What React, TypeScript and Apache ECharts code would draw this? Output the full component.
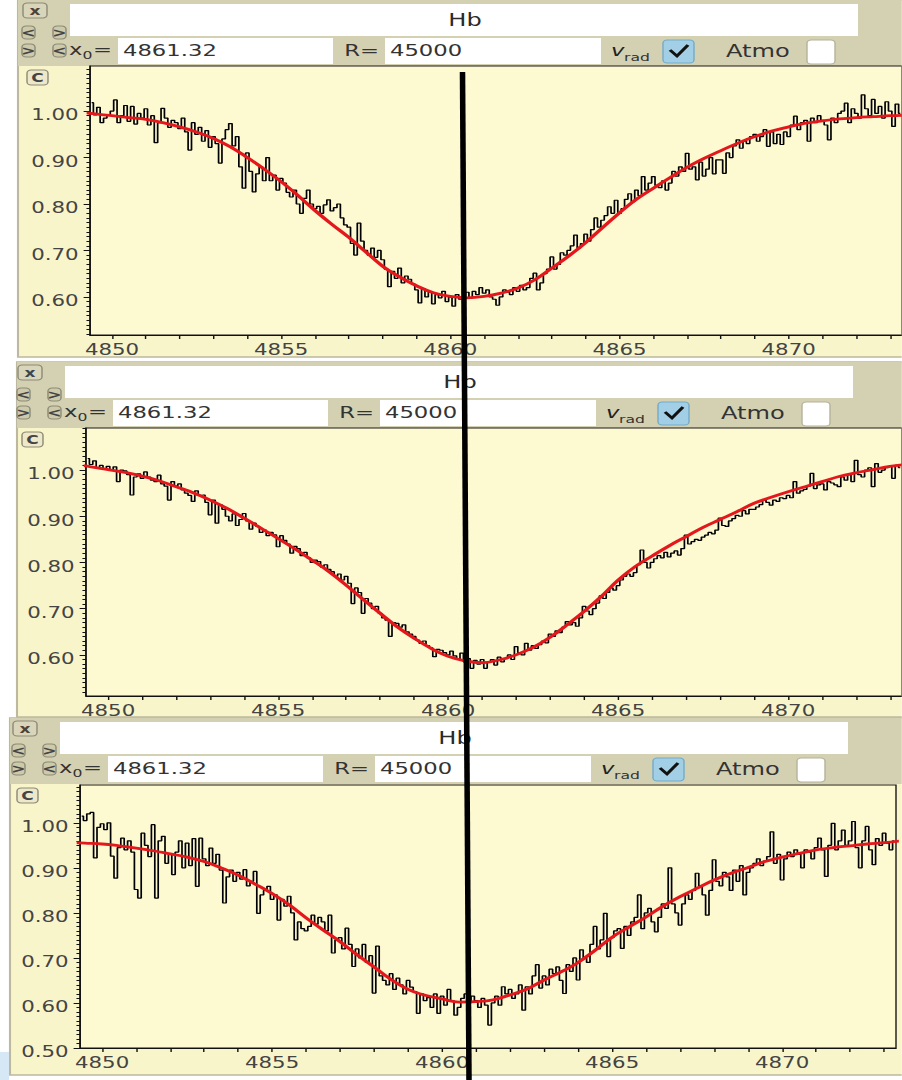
import { useEffect, useRef } from 'react';
import * as echarts from 'echarts';

// The reference screenshot is stretched horizontally; the chart is drawn in a
// narrower box and widened with a CSS scaleX so text and strokes match.
const S = 1.42;
const W = 902 / S;
const X = (x: number) => x / S;

// ---------- data ----------
const TITLE = 'Hb';
const X0_TEXT = '4861.32';
const R_TEXT = '45000';

const X_MIN = 4849.35;
const X_MAX = 4873.35;
const X_TICKS = [4850, 4851, 4852, 4853, 4854, 4855, 4856, 4857, 4858, 4859, 4860, 4861,
  4862, 4863, 4864, 4865, 4866, 4867, 4868, 4869, 4870, 4871, 4872, 4873];
const X_LABELS = [4850, 4855, 4860, 4865, 4870];
const Y_LABELS_A = [0.6, 0.7, 0.8, 0.9, 1.0];
const Y_LABELS_B = [0.5, 0.6, 0.7, 0.8, 0.9, 1.0];

// observed spectra: flux (x1000) sampled every 0.1 A from 4849.4 A
const WL_START = 4849.4;
const WL_STEP = 0.1;
const FLUX_1 = [
  1018, 992, 1008, 975, 985, 992,
  1000, 1024, 975, 990, 1012, 978, 1010, 972, 995, 985,
  1005, 970, 990, 932, 975, 1006, 985, 965, 980, 975,
  962, 985, 955, 916, 975, 950, 965, 935, 958, 922,
  945, 930, 888, 940, 960, 973, 925, 945, 880, 834,
  910, 870, 826, 865, 880, 850, 900, 850, 862, 830,
  855, 845, 825, 815, 830, 800, 780, 812, 830, 800,
  790, 795, 780, 798, 809, 785, 792, 800, 770, 755,
  750, 715, 690, 759, 720, 700, 690, 705, 685, 700,
  680, 660, 622, 655, 640, 662, 630, 645, 638, 628,
  615, 587, 618, 600, 610, 585, 605, 598, 612, 590,
  600, 580, 605, 595, 600, 610, 598, 612, 605, 620,
  608, 615, 600, 595, 582, 600, 615, 610, 605, 620,
  612, 625, 615, 620, 640, 651, 615, 630, 650, 660,
  686, 660, 670, 695, 690, 700, 710, 733, 705, 715,
  735, 720, 745, 770, 750, 765, 775, 794, 780, 808,
  780, 790, 810, 822, 805, 830, 818, 859, 830, 845,
  859, 840, 835, 850, 830, 845, 870, 860, 880, 870,
  909, 875, 880, 852, 890, 860, 875, 900, 865, 895,
  895, 866, 910, 900, 925, 938, 920, 935, 930, 945,
  950, 935, 945, 960, 924, 955, 930, 950, 928, 955,
  945, 970, 989, 960, 975, 980, 935, 985, 975, 990,
  980, 970, 938, 985, 975, 995, 1000, 1017, 975, 1005,
  995, 985, 1035, 1005, 990, 1025, 995, 1010, 985, 1020,
  1000, 967, 1015, 995,
];
const FLUX_2 = [
  1025, 1012, 1020, 1005, 1010, 1002,
  1008, 1000, 1007, 975, 1000, 998, 990, 946, 985, 992,
  982, 996, 985, 978, 975, 989, 970, 965, 935, 975,
  965, 970, 957, 950, 945, 932, 955, 945, 946, 930,
  903, 935, 885, 925, 915, 900, 890, 905, 880, 893,
  906, 890, 872, 885, 878, 865, 870, 858, 865, 860,
  834, 858, 848, 840, 820, 835, 830, 815, 822, 810,
  800, 805, 802, 790, 795, 785, 780, 770, 775, 762,
  770, 755, 711, 745, 735, 690, 722, 712, 700, 705,
  690, 680, 675, 640, 670, 668, 660, 665, 650, 645,
  640, 632, 625, 630, 620, 615, 596, 612, 610, 605,
  600, 608, 598, 590, 604, 585, 592, 571, 588, 580,
  590, 571, 585, 590, 578, 595, 585, 592, 600, 590,
  618, 605, 600, 625, 610, 620, 614, 622, 630, 626,
  645, 640, 652, 648, 660, 672, 665, 670, 662, 680,
  705, 695, 687, 700, 712, 728, 722, 735, 745, 740,
  750, 762, 770, 775, 770, 778, 795, 827, 800, 788,
  800, 808, 815, 810, 822, 812, 820, 825, 816, 830,
  859, 840, 845, 850, 848, 855, 859, 865, 862, 870,
  896, 880, 878, 890, 895, 902, 900, 912, 905, 915,
  915, 920, 925, 935, 930, 924, 935, 932, 940, 938,
  945, 940, 975, 950, 955, 958, 965, 993, 960, 968,
  970, 957, 975, 972, 968, 964, 985, 978, 990, 975,
  1021, 990, 985, 1000, 1005, 964, 1014, 995, 1000, 1005,
  1008, 982, 1010, 1005,
];
const FLUX_3 = [
  1015, 1005, 1020, 1023, 922, 990,
  998, 985, 1000, 926, 877, 945, 966, 940, 960, 935,
  852, 833, 977, 950, 925, 996, 833, 960, 970, 910,
  930, 885, 935, 960, 900, 955, 905, 965, 859, 966,
  920, 905, 944, 910, 930, 895, 822, 880, 895, 870,
  890, 875, 896, 860, 870, 892, 799, 840, 850, 859,
  830, 840, 784, 830, 815, 837, 800, 740, 780, 765,
  760, 770, 795, 775, 790, 780, 760, 795, 711, 740,
  745, 720, 766, 730, 681, 720, 700, 730, 690, 705,
  622, 726, 660, 650, 640, 665, 630, 655, 640, 620,
  650, 635, 625, 577, 620, 605, 612, 590, 620, 577,
  615, 595, 630, 605, 573, 590, 610, 620, 600, 615,
  605, 590, 610, 595, 551, 600, 615, 595, 636, 620,
  630, 610, 620, 640, 584, 636, 620, 660, 685, 633,
  660, 640, 675, 665, 680, 650, 621, 685, 670, 700,
  651, 718, 700, 690, 730, 770, 720, 740, 799, 703,
  745, 760, 765, 721, 770, 750, 780, 790, 840, 765,
  800, 810, 780, 758, 790, 820, 810, 900, 820, 800,
  773, 820, 840, 830, 850, 888, 860, 840, 795, 850,
  918, 870, 860, 890, 880, 850, 895, 870, 905, 840,
  890, 900, 910, 920, 905, 915, 925, 980, 910, 930,
  873, 920, 935, 925, 940, 930, 900, 940, 935, 920,
  945, 966, 940, 881, 950, 999, 940, 960, 984, 950,
  960, 1003, 945, 900, 960, 992, 940, 907, 965, 950,
  977, 955, 940, 960,
];

// fitted profiles: flux (x1000) every 0.5 A from 4849.0 A
const FIT_START = 4849.0;
const FIT_STEP = 0.5;
const FIT_1 = [
  998, 994, 990, 986, 982, 975, 966, 955, 941, 923, 900, 875, 848, 818, 786, 756, 728,
  697, 666, 643, 624, 609, 601, 598, 601, 608, 619, 637, 662, 688, 717, 749, 781, 810,
  834, 857, 879, 898, 915, 931, 945, 957, 966, 974, 979, 983, 986, 988, 990, 991,
];
const FIT_2 = [
  1012, 1007, 1001, 995, 987, 977, 964, 951, 935, 917, 896, 874, 852, 829, 805, 780, 751,
  720, 690, 661, 636, 614, 597, 587, 583, 589, 600, 616, 638, 665, 694, 726, 762, 791,
  814, 836, 856, 876, 893, 910, 928, 941, 953, 964, 975, 986, 994, 1001, 1008, 1012,
];
const FIT_3 = [
  957, 955, 953, 949, 944, 938, 931, 924, 914, 900, 884, 864, 843, 818, 789, 762, 736,
  707, 680, 652, 630, 617, 609, 602, 603, 607, 618, 631, 651, 669, 690, 717, 746, 769,
  791, 815, 836, 855, 873, 888, 901, 914, 924, 932, 940, 945, 949, 953, 956, 960,
];

// ---------- layout (screen pixels) ----------
const PANELS = [
  { ox: 0, oy: 0, left: 18, bottom: 357, gl: 90, gt: 66, gw: 813.6, gh: 269, ymin: 0.518, ymax: 1.097, flux: FLUX_1, fit: FIT_1, ylab: Y_LABELS_A },
  { ox: -5, oy: 362, left: 17, bottom: 717, gl: 86, gt: 428, gw: 816, gh: 268, ymin: 0.511, ymax: 1.091, flux: FLUX_2, fit: FIT_2, ylab: Y_LABELS_A },
  { ox: -10, oy: 718, left: 10, bottom: 1075, gl: 80, gt: 785, gw: 816, gh: 263, ymin: 0.5, ymax: 1.084, flux: FLUX_3, fit: FIT_3, ylab: Y_LABELS_B },
];

const FONT = 'DejaVu Sans';
const TXT = '#333';

function txt(x: number, y: number, text: string, size: number, extra: any = {}) {
  return {
    type: 'text', z: 20, x: X(x), y,
    style: { text, fill: TXT, fontSize: size, fontFamily: FONT, align: 'left', verticalAlign: 'middle', ...extra },
  };
}
function btn(x: number, y: number, w: number, h: number, label: string, fill: string) {
  return [
    { type: 'rect', z: 15, shape: { x: X(x), y, width: X(w), height: h, r: 3 }, style: { fill, stroke: '#8d8a76', lineWidth: 1 } },
    txt(x + w / 2, y + h / 2, label, 12, { align: 'center', fill: '#444', fontWeight: 'bold' }),
  ];
}

function panelGraphics(p: any) {
  const { ox, oy } = p;
  const els: any[] = [];
  els.push({ type: 'rect', z: -20, shape: { x: X(p.left), y: oy, width: X(902 - p.left) + 2, height: p.bottom - oy }, style: { fill: '#f9f5cb', stroke: '#bcb9a0', lineWidth: 1.5 } });
  els.push({ type: 'rect', z: -19, shape: { x: X(p.left), y: oy, width: X(902 - p.left) + 2, height: 66 }, style: { fill: '#d4d1b2' } });
  els.push({ type: 'rect', z: 12, shape: { x: X(70 + ox), y: oy + 4, width: X(788), height: 32 }, style: { fill: '#ffffff' } });
  els.push(txt(465 + ox, oy + 20, TITLE, 17, { align: 'center', fill: '#2a2a2a' }));
  els.push(...btn(23 + ox, oy + 3, 24, 15, 'x', '#d8d5ba'));
  els.push(...btn(22 + ox, oy + 26, 13, 13, '<', '#cdcaab'));
  els.push(...btn(53 + ox, oy + 26, 13, 13, '>', '#cdcaab'));
  els.push(...btn(22 + ox, oy + 44, 13, 13, '>', '#cdcaab'));
  els.push(...btn(53 + ox, oy + 44, 13, 13, '<', '#cdcaab'));
  els.push(txt(69 + ox, oy + 50, 'x', 16));
  els.push(txt(82.5 + ox, oy + 55, '0', 11));
  els.push(txt(93 + ox, oy + 50, '=', 16));
  els.push({ type: 'rect', z: 12, shape: { x: X(118 + ox), y: oy + 38, width: X(215), height: 26 }, style: { fill: '#ffffff' } });
  els.push(txt(123 + ox, oy + 51, X0_TEXT, 16));
  els.push(txt(379 + ox, oy + 51, 'R=', 16, { align: 'right' }));
  els.push({ type: 'rect', z: 12, shape: { x: X(385 + ox), y: oy + 38, width: X(216), height: 26 }, style: { fill: '#ffffff' } });
  els.push(txt(390 + ox, oy + 51, R_TEXT, 16));
  els.push(txt(611 + ox, oy + 51, 'v', 16, { fontStyle: 'italic', fill: '#222' }));
  els.push(txt(624 + ox, oy + 57, 'rad', 11));
  els.push({ type: 'rect', z: 15, shape: { x: X(663 + ox), y: oy + 40, width: X(31), height: 23, r: 3 }, style: { fill: '#a2cfe5', stroke: '#72acc9', lineWidth: 1 } });
  els.push({ type: 'polyline', z: 16, shape: { points: [[X(670 + ox), oy + 50], [X(677 + ox), oy + 56], [X(688 + ox), oy + 45]] }, style: { stroke: '#111', lineWidth: 2.4, fill: null } });
  els.push(txt(726 + ox, oy + 51, 'Atmo', 17));
  els.push({ type: 'rect', z: 15, shape: { x: X(807 + ox), y: oy + 40, width: X(28), height: 24, r: 3 }, style: { fill: '#ffffff', stroke: '#b5b29a', lineWidth: 1 } });
  els.push(...btn(27 + ox, oy + 70, 21, 15, 'C', '#ece8c9'));
  return els;
}

function minorTicks(min: number, max: number) {
  const out: number[] = [];
  for (let k = Math.ceil(min * 100); k <= Math.floor(max * 100); k++) out.push(k / 100);
  return out;
}

function buildOption() {
  const grid = PANELS.map((p) => ({
    left: X(p.gl), top: p.gt, width: X(p.gw), height: p.gh,
    show: true, backgroundColor: '#fdf9d1', borderColor: '#1a1a1a', borderWidth: 1,
  }));
  const xAxis = PANELS.map((p, i) => ({
    type: 'value', gridIndex: i, min: X_MIN, max: X_MAX,
    axisLine: { show: true, onZero: false, lineStyle: { color: '#111', width: 1 } },
    axisTick: { show: true, customValues: X_TICKS, length: 4, lineStyle: { color: '#111' } },
    axisLabel: { customValues: X_LABELS, color: '#444', fontSize: 15, fontFamily: FONT, margin: 7, formatter: (v: number) => String(Math.round(v)) },
    splitLine: { show: false },
  }));
  const yAxis: any[] = [];
  PANELS.forEach((p, i) => {
    yAxis.push({
      type: 'value', gridIndex: i, min: p.ymin, max: p.ymax, position: 'left',
      axisLine: { show: true, onZero: false, lineStyle: { color: '#111', width: 1 } },
      axisTick: { show: true, customValues: p.ylab, length: 4.5, lineStyle: { color: '#111' } },
      axisLabel: { customValues: p.ylab, color: '#444', fontSize: 15, fontFamily: FONT, margin: 8, verticalAlign: 'top', lineHeight: 8, formatter: (v: number) => v.toFixed(2) },
      splitLine: { show: false },
    });
    yAxis.push({
      type: 'value', gridIndex: i, min: p.ymin, max: p.ymax, position: 'left',
      axisLine: { show: false },
      axisTick: { show: true, customValues: minorTicks(p.ymin, p.ymax), length: 2.5, lineStyle: { color: '#111' } },
      axisLabel: { show: false },
      splitLine: { show: false },
    });
  });
  const series: any[] = [];
  PANELS.forEach((p, i) => {
    series.push({
      type: 'line', xAxisIndex: i, yAxisIndex: 2 * i, step: 'middle', symbol: 'none', silent: true,
      data: p.flux.map((v: number, k: number) => [WL_START + k * WL_STEP, v / 1000]),
      lineStyle: { color: '#000', width: 1.2 }, z: 3,
    });
    series.push({
      type: 'line', xAxisIndex: i, yAxisIndex: 2 * i, smooth: 0.4, symbol: 'none', silent: true,
      data: p.fit.map((v: number, k: number) => [FIT_START + k * FIT_STEP, v / 1000]),
      lineStyle: { color: '#e3171c', width: 2.8 }, z: 4,
    });
  });
  const graphic: any[] = [];
  PANELS.forEach((p) => graphic.push(...panelGraphics(p)));
  graphic.push({ type: 'rect', z: -20, shape: { x: 0, y: 1052, width: X(9), height: 28 }, style: { fill: '#d6e7f6' } });
  graphic.push({ type: 'line', z: 50, shape: { x1: X(462.5), y1: 72, x2: X(469), y2: 1080 }, style: { stroke: '#000', lineWidth: 3.9 } });
  return {
    animation: false,
    backgroundColor: '#ffffff',
    textStyle: { fontFamily: FONT },
    grid, xAxis, yAxis, series, graphic,
  };
}

export default function App() {
  const ref = useRef<HTMLDivElement>(null);
  useEffect(() => {
    document.body.style.margin = '0';
    document.body.style.overflow = 'hidden';
    const chart = echarts.init(ref.current!, undefined, { renderer: 'svg', width: W, height: 1080 });
    chart.setOption(buildOption() as any);
    return () => chart.dispose();
  }, []);
  return (
    <div
      ref={ref}
      style={{ position: 'absolute', left: 0, top: 0, width: W, height: 1080, transform: `scaleX(${S})`, transformOrigin: '0 0', background: '#fff' }}
    />
  );
}
